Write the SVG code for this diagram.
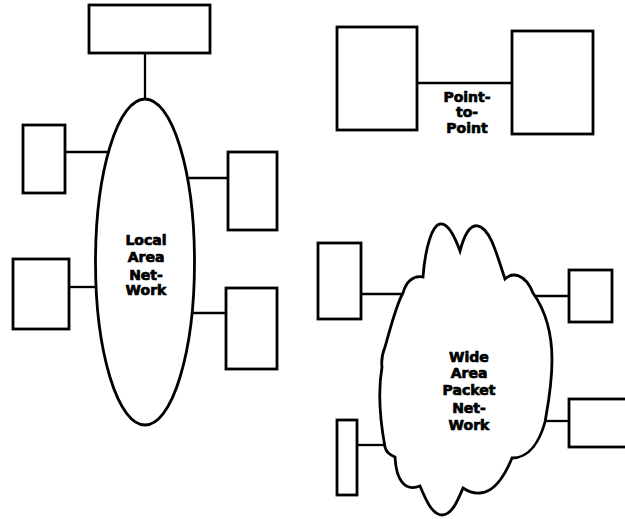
<svg xmlns="http://www.w3.org/2000/svg" width="625" height="519" viewBox="0 0 625 519">
<style>
.n{fill:#fff;stroke:#000;stroke-width:2.8}
.c{stroke:#000;stroke-width:2.3;fill:none}
.t{font-family:"DejaVu Sans",sans-serif;font-weight:bold;font-size:14px;fill:#000;text-anchor:middle;stroke:#000;stroke-width:0.7}
</style>
<rect width="625" height="519" fill="#fff"/>
<g id="connectors">
<line class="c" x1="145" y1="53" x2="145" y2="100"/>
<line class="c" x1="65" y1="152" x2="111" y2="152"/>
<line class="c" x1="189" y1="178" x2="228" y2="178"/>
<line class="c" x1="69" y1="287" x2="97" y2="287"/>
<line class="c" x1="193" y1="313" x2="226" y2="313"/>
<line class="c" x1="417" y1="83" x2="512" y2="83"/>
<line class="c" x1="361" y1="294" x2="404" y2="294"/>
<line class="c" x1="532" y1="296" x2="569" y2="296"/>
<line class="c" x1="544" y1="421" x2="569" y2="421"/>
<line class="c" x1="357" y1="445" x2="386" y2="445"/>
</g>
<g id="lan">
<ellipse class="n" cx="145" cy="262" rx="49.5" ry="163"/>
<text class="t" x="146" y="245">Local</text>
<text class="t" x="146" y="262">Area</text>
<text class="t" x="146" y="280">Net-</text>
<text class="t" x="146" y="295">Work</text>
</g>
<g id="lan-top"><rect class="n" x="89" y="5" width="121" height="48"/></g>
<g id="lan-left1"><rect class="n" x="23" y="125" width="42" height="68"/></g>
<g id="lan-right1"><rect class="n" x="228" y="152" width="49" height="78"/></g>
<g id="lan-left2"><rect class="n" x="13" y="259" width="56" height="70"/></g>
<g id="lan-right2"><rect class="n" x="226" y="288" width="51" height="81"/></g>
<g id="p2p-left"><rect class="n" x="337" y="27" width="80" height="103"/></g>
<g id="p2p-right"><rect class="n" x="512" y="31" width="81" height="103"/></g>
<g id="p2p-label">
<text class="t" x="467" y="102">Point-</text>
<text class="t" x="467" y="117">to-</text>
<text class="t" x="467" y="133">Point</text>
</g>
<g id="wan">
<path class="n" d="M403,293 C406,282 413,275 423,277 C425,250 432,222 442,224 C450,225 456,240 460,251 C464,236 470,224 478,226 C490,228 497,255 505,279 C512,272 525,273 533,293 C545,310 552,330 552,360 C552,385 548,405 545,422 C540,440 530,458 512,458 C505,475 495,492 480,493 C472,494 466,490 463,488 C458,500 452,515 442,515 C432,515 425,498 420,486 C405,492 396,480 395,457 C390,455 386,452 385,447 C380,420 378,390 382,367 C381,360 383,352 385,347 C390,330 396,305 403,293 Z"/>
<text class="t" x="469" y="362">Wide</text>
<text class="t" x="469" y="378">Area</text>
<text class="t" x="469" y="395">Packet</text>
<text class="t" x="469" y="413">Net-</text>
<text class="t" x="469" y="430">Work</text>
</g>
<g id="wan-left1"><rect class="n" x="318" y="243" width="43" height="76"/></g>
<g id="wan-right1"><rect class="n" x="569" y="270" width="43" height="52"/></g>
<g id="wan-right2"><rect class="n" x="569" y="399" width="62" height="48"/></g>
<g id="wan-left2"><rect class="n" x="337" y="420" width="20" height="75"/></g>
</svg>
